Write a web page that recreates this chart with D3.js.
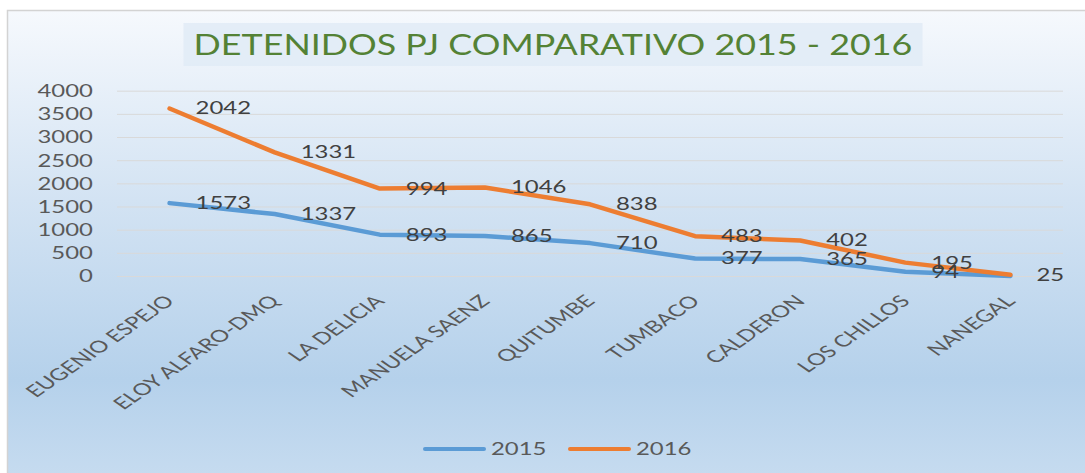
<!DOCTYPE html>
<html>
<head>
<meta charset="utf-8">
<script src="https://cdn.jsdelivr.net/npm/d3@7"></script>
<style>
html, body { margin: 0; padding: 0; background: #fff; overflow: hidden; }
svg { display: block; }
text { font-family: Lato, "Open Sans", sans-serif; }
</style>
</head>
<body>
<div id="chart"></div>
<script>
var categories = ["EUGENIO ESPEJO", "ELOY ALFARO-DMQ", "LA DELICIA", "MANUELA SAENZ", "QUITUMBE",
                  "TUMBACO", "CALDERON", "LOS CHILLOS", "NANEGAL"];
var values2015 = [1573, 1337, 893, 865, 710, 377, 365, 94, null];
var values2016 = [2042, 1331, 994, 1046, 838, 483, 402, 195, 25];
var seriesNames = ["2015", "2016"];
var seriesColors = ["#5b9bd5", "#ed7d31"];
var yTicks = [0, 500, 1000, 1500, 2000, 2500, 3000, 3500, 4000];
var chartTitle = "DETENIDOS PJ COMPARATIVO 2015 - 2016";

function drawChart(){
  var W = 1085, H = 473;
  var sx = 1.45; // the original picture is stretched sideways
  var plot = {left: 117, right: 1063, top: 90.7, bottom: 276};

  var svg = d3.select("#chart").append("svg")
      .attr("width", W)
      .attr("height", H);

  var defs = svg.append("defs");
  var grad = defs.append("linearGradient")
      .attr("id", "bg").attr("x1", 0).attr("y1", 0).attr("x2", 0).attr("y2", 1);
  grad.append("stop").attr("offset", "0%").attr("stop-color", "#f6f9fd");
  grad.append("stop").attr("offset", "40%").attr("stop-color", "#d3e3f3");
  grad.append("stop").attr("offset", "78%").attr("stop-color", "#b5d1eb");
  grad.append("stop").attr("offset", "100%").attr("stop-color", "#c7dcf0");

  svg.append("rect")
      .attr("x", 7.5).attr("y", 10.5)
      .attr("width", W).attr("height", H)
      .attr("fill", "url(#bg)")
      .attr("stroke", "#d3d3d3")
      .attr("stroke-width", 1.5);

  // title, stretched to the width it has in the picture
  var tg = svg.append("g");
  var titleBox = tg.append("rect").attr("fill", "#e1ebf6").attr("opacity", 0.85);
  var titleText = tg.append("text")
      .attr("text-anchor", "middle")
      .attr("font-size", 28)
      .attr("fill", "#548235")
      .text(chartTitle);
  var titleW = 719;
  var tsx = titleW / titleText.node().getComputedTextLength();
  titleText.attr("transform", "translate(553,55) scale(" + tsx + ",1)");
  titleBox.attr("x", 553 - titleW / 2 - 10).attr("y", 23)
      .attr("width", titleW + 20).attr("height", 43);

  var x = d3.scalePoint().domain(categories).range([plot.left, plot.right]).padding(0.5);
  var y = d3.scaleLinear().domain([0, 4000]).range([plot.bottom, plot.top]);

  // y axis + gridlines
  var yAxis = svg.append("g")
      .attr("transform", "translate(" + plot.left + ",0)")
      .call(d3.axisLeft(y).tickValues(yTicks).tickFormat(d3.format("d"))
            .tickSize(-(plot.right - plot.left)).tickPadding(24));
  yAxis.select(".domain").remove();
  yAxis.selectAll(".tick line").attr("stroke", "#d9d9d9").attr("stroke-width", 1);
  yAxis.selectAll(".tick text")
      .attr("x", 0)
      .attr("dy", "0.36em")
      .attr("transform", "translate(-24,0) scale(" + sx + ",1)")
      .attr("font-size", 16.5)
      .attr("fill", "#595959");

  // category labels
  svg.append("g").selectAll("text")
      .data(categories)
      .join("text")
      .attr("transform", function(d){ return "translate(" + x(d) + ",298) scale(" + sx + ",1) rotate(-45)"; })
      .attr("text-anchor", "end")
      .attr("dy", "0.35em")
      .attr("font-size", 16.5)
      .attr("fill", "#595959")
      .text(function(d){ return d; });

  // stacked lines
  var rows = categories.map(function(c, i){
    return {cat: c, "2015": values2015[i], "2016": values2016[i]};
  });
  var stacked = d3.stack().keys(seriesNames)(rows);

  var line = d3.line()
      .x(function(d){ return x(d.data.cat); })
      .y(function(d){ return y(d[1]); });

  svg.append("g").selectAll("path")
      .data(stacked)
      .join("path")
      .attr("d", line)
      .attr("fill", "none")
      .attr("stroke", function(d, i){ return seriesColors[i]; })
      .attr("stroke-width", 4.5)
      .attr("stroke-linejoin", "round")
      .attr("stroke-linecap", "round");

  // data labels (own value, at the stacked point)
  stacked.forEach(function(s){
    svg.append("g").selectAll("text")
        .data(s.filter(function(d){ return d.data[s.key] != null; }))
        .join("text")
        .attr("transform", function(d){ return "translate(" + (x(d.data.cat) + 26) + "," + y(d[1]) + ") scale(" + sx + ",1)"; })
        .attr("dy", "0.36em")
        .attr("font-size", 16.5)
        .attr("fill", "#404040")
        .text(function(d){ return d.data[s.key]; });
  });

  // legend
  var legend = svg.append("g").attr("transform", "translate(423,449)");
  var item = legend.selectAll("g")
      .data(seriesNames)
      .join("g")
      .attr("transform", function(d, i){ return "translate(" + (i * 145) + ",0)"; });
  item.append("line")
      .attr("x1", 2).attr("x2", 61)
      .attr("stroke", function(d, i){ return seriesColors[i]; })
      .attr("stroke-width", 4)
      .attr("stroke-linecap", "round");
  item.append("text")
      .attr("transform", "translate(68,0) scale(" + sx + ",1)")
      .attr("dy", "0.36em")
      .attr("font-size", 16.5)
      .attr("fill", "#595959")
      .text(function(d){ return d; });
}

drawChart();
</script>
</body>
</html>
